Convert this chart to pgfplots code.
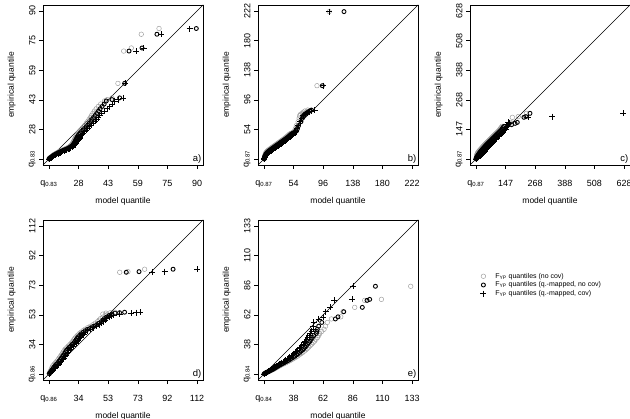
\documentclass[border=0pt]{standalone}
\usepackage{fontspec}
\setmainfont{Liberation Sans}
\usepackage{pgfplots}
\usepackage{pgfplotstable}
\pgfplotsset{compat=1.18}

\definecolor{lightq}{HTML}{9A9A9A}

% columns: empirical quantile, model quantile of the three fits
% (no covariate, quantile-mapped without covariate, quantile-mapped with covariate)
\pgfplotstableread{
emp nocov qmap qmapcov
12.6 12.5 12.6 12.7
12.9 12.8 12.9 13.1
13.2 13.1 13.3 13.5
13.5 13.5 13.7 14.0
13.8 13.9 14.1 14.5
14.1 14.2 14.5 15.0
14.4 14.6 14.9 15.5
14.7 15.0 15.4 16.0
15.0 15.4 15.9 16.6
15.3 15.9 16.5 17.2
15.6 16.4 17.0 17.8
15.9 17.0 17.6 18.4
16.2 17.5 18.2 19.0
16.5 18.1 18.8 19.7
16.8 18.7 19.5 20.4
17.1 19.4 20.2 21.1
17.4 20.1 20.9 21.8
17.7 20.8 21.6 22.5
18.0 21.5 22.3 23.2
18.4 22.2 23.0 23.9
18.8 22.9 23.7 24.6
19.2 23.5 24.3 25.2
19.6 24.0 24.8 25.7
20.0 24.4 25.2 26.1
20.5 24.7 25.5 26.5
21.0 25.0 25.8 26.9
21.6 25.3 26.1 27.3
22.2 25.6 26.4 27.7
22.8 25.9 26.7 28.1
23.4 26.2 27.0 28.5
24.0 26.5 27.3 28.9
24.7 26.9 27.7 29.4
25.4 27.3 28.2 29.9
26.1 27.8 28.8 30.5
26.9 28.4 29.5 31.2
27.7 29.1 30.3 32.0
28.5 29.8 31.1 32.8
29.4 30.6 32.0 33.7
30.3 31.3 32.8 34.6
31.2 32.0 33.6 35.5
32.2 32.8 34.4 36.5
33.2 33.5 35.2 37.4
34.2 34.1 35.9 38.2
35.3 34.8 36.7 39.1
36.4 35.5 37.5 40.0
37.6 36.3 38.4 41.6
38.8 37.2 39.3 43.0
40.0 38.3 40.3 44.3
41.3 39.6 41.4 45.5
42.9 41.6 42.5 46.9
43.6 43.0 45.5 48.6
44.5 45.5 49.5 51.2
52.1 48.6 52.1 52.5
69.0 51.6 54.4 58.2
70.6 55.6 61.2 62.1
77.8 60.8 69.0 71.3
80.8 70.1 89.6 86.1
}\tabA

\pgfplotstableread{
emp nocov qmap qmapcov
12.3 12.2 12.3 12.4
13.0 12.4 12.5 12.7
14.0 12.6 12.8 13.1
15.0 12.8 13.1 13.6
16.0 13.0 13.5 14.2
17.0 13.3 13.9 14.8
18.0 13.6 14.4 15.6
19.0 14.0 15.0 16.5
20.0 14.2 15.7 17.6
21.0 14.8 16.5 18.8
22.0 15.5 17.4 20.0
23.0 16.4 18.5 21.3
24.0 17.4 19.7 22.6
25.0 18.5 21.0 24.0
26.0 19.9 22.4 25.4
27.0 21.3 23.8 26.8
28.0 22.7 25.2 28.2
29.0 24.1 26.6 29.6
30.0 25.5 28.0 31.0
31.0 26.9 29.4 32.4
32.0 28.3 30.8 33.8
33.0 29.7 32.2 35.2
34.0 31.1 33.6 36.6
35.0 32.5 35.0 38.0
36.0 33.9 36.4 39.4
37.0 35.3 37.8 40.8
38.0 36.7 39.2 42.2
39.0 38.1 40.6 43.6
40.2 39.7 42.2 45.2
41.4 41.3 43.8 46.8
42.6 42.8 45.3 48.3
43.8 44.3 46.8 49.8
45.0 45.7 48.2 51.2
46.3 47.1 49.6 52.6
47.6 48.5 51.0 54.0
48.4 50.0 52.5 55.0
50.0 53.2 55.5 55.0
51.7 55.5 58.0 57.0
55.0 56.5 59.5 59.0
59.3 57.9 61.0 60.5
65.0 60.5 64.5 63.0
70.0 62.0 66.5 65.5
73.5 62.6 68.0 67.5
75.5 64.0 69.7 70.5
77.0 66.5 72.0 73.0
78.5 68.0 74.4 76.0
80.1 70.0 76.5 79.2
81.5 74.0 79.2 83.9
116.0 87.2 94.8 95.7
221.0 104.5 125.5 104.2
}\tabB

\pgfplotstableread{
emp nocov qmap qmapcov
28 27.5 28 28.5
30 28 28.8 30.5
32 28.5 29.5 32.5
34 29 30.5 35
36 29.5 31.5 37.5
38 30 32.8 40
40 30.5 34 43
42.5 31 35.5 46
45 31.5 37 49
47.5 32 38.8 52
50 33 40.5 54.5
52.5 34.2 42.2 56.5
55 36 44 58
57.5 38 46 60
60 40 48 62
62.5 42 50 64
65 44 52 66
67.5 46.2 54.2 68.2
70 48.5 56.5 70.5
72.5 50.8 58.8 72.8
75 53 61 75
77.5 55.2 63.2 77.2
80 57.5 65.5 79.5
82.5 59.8 67.8 81.8
85 62 70 84
87.5 64.5 72.5 86.5
90 67 75 89
92.5 69.5 77.5 91.5
95 72 80 94
97.5 74.5 82.5 96.5
100 77 85 99
103 80 88 102
106 83 91 105
109 86 94 108
112 89 97 111
115 92 100 114
118 95 103 117
121 98 106 120
124 101 109 123
127 104 112 126
130 107 115 129
134 111 119 133
138 115 123 137
142 119 127 141
146 123 131 145
150 126 134 148
155 129 137 151
160 133 141 155
166.7 160 172 158
172 165 186 162
176 168 195 158
196.5 175 222 240
199.5 199 230 337
212.7 232 246.5 624
}\tabC

\pgfplotstableread{
emp nocov qmap qmapcov
14.8 14.7 14.8 15.0
15.5 15.0 15.3 15.7
16.3 15.4 15.9 16.5
17.1 15.8 16.5 17.3
18.0 16.2 17.1 18.1
19.0 16.6 17.8 18.9
20.0 17.1 18.6 20.1
21.0 17.9 19.4 20.9
22.0 18.8 20.3 21.8
23.0 19.7 21.2 22.7
24.0 20.5 22.0 23.5
25.0 21.2 22.7 24.2
26.0 21.9 23.4 24.9
27.0 22.6 24.1 25.6
28.0 23.3 24.8 26.3
29.0 23.9 25.4 26.9
30.0 24.5 26.0 27.5
31.0 25.3 26.8 28.3
32.0 26.3 27.8 29.3
33.0 27.3 28.8 30.3
34.0 28.3 29.8 31.3
35.0 29.3 30.8 32.3
36.0 30.1 31.6 33.1
37.0 30.8 32.3 33.8
38.0 31.5 33.0 34.5
39.0 32.3 33.8 35.3
40.0 33.3 34.8 36.3
41.0 34.3 35.8 37.3
42.0 35.5 37.0 38.5
43.0 36.9 38.4 39.9
44.0 38.3 40.0 41.5
45.0 40.0 42.0 43.5
46.0 41.8 44.0 45.5
47.0 43.5 46.0 47.5
48.0 45.0 47.5 49.0
49.0 46.5 49.0 50.5
50.0 47.5 50.0 51.5
51.0 48.5 51.0 52.5
52.0 50.0 52.5 54.0
53.0 51.5 54.0 55.5
53.5 52.5 55.5 57.0
54.0 50.0 56.0 61.0
54.6 52.0 58.0 68.7
54.9 55.0 61.0 71.8
55.2 58.0 64.3 74.5
81.5 61.1 65.4 82.6
81.9 66.5 73.8 90.7
83.5 77.5 96.2 112.0
}\tabD

\pgfplotstableread{
emp nocov qmap qmapcov
14.8 14.9 14.8 14.7
15.3 15.8 15.6 15.4
15.8 16.8 16.5 16.2
16.3 17.9 17.5 17.0
16.8 18.9 18.5 17.9
17.3 20.0 19.5 18.8
17.8 21.0 20.5 19.7
18.3 22.1 21.5 20.6
18.8 23.0 22.4 21.5
19.4 24.0 23.3 22.4
20.0 25.0 24.2 23.2
20.6 26.1 25.2 24.0
21.2 27.2 26.2 24.9
21.8 28.3 27.2 25.8
22.4 29.5 28.3 26.8
23.0 30.8 29.5 27.8
23.7 32.2 30.8 28.9
24.4 33.5 32.0 29.9
25.1 34.9 33.3 31.0
25.8 36.2 34.5 32.0
26.6 37.6 35.8 33.1
27.4 38.9 37.0 34.1
28.2 40.3 38.3 35.2
29.0 41.6 39.5 36.2
30.0 43.0 40.8 37.3
31.0 44.3 42.0 38.4
32.0 45.7 43.3 39.5
33.0 47.0 44.5 40.6
34.0 48.2 45.6 41.6
35.0 49.3 46.6 42.6
36.2 50.5 47.6 43.7
37.4 51.7 48.6 44.8
38.6 52.9 49.6 45.8
39.8 54.0 50.5 46.8
41.0 55.2 51.5 47.8
42.5 56.4 52.5 48.8
44.0 57.6 53.5 49.7
45.5 58.6 54.6 50.6
47.2 59.3 56.6 51.6
48.8 61.0 57.0 52.8
50.5 62.8 57.4 53.9
53.0 64.0 58.5 53.9
56.0 65.4 61.0 54.5
58.8 68.7 71.9 58.5
60.5 76.2 74.0 62.0
64.6 78.0 78.6 64.0
68.1 87.4 93.5 67.5
73.7 95.4 97.3 71.0
74.5 108.8 99.4 85.2
85.0 132.3 104.0 86.0
}\tabE

\tikzset{
  panel label/.style={anchor=south east, inner sep=1.5bp, font=\fontsize{9.5}{10}\selectfont},
}
\pgfplotsset{
  qqpanel/.style={
    scale only axis, width=160bp, height=160bp,
    axis line style={line width=0.6pt},
    tick align=outside, major tick length=4bp,
    xtick pos=left, ytick pos=left,
    tick style={black, line width=0.5pt},
    xticklabel style={font=\fontsize{9}{10}\selectfont, yshift=-8bp},
    yticklabel style={font=\fontsize{9}{10}\selectfont, rotate=90, anchor=south},
    label style={font=\fontsize{8.5}{10}\selectfont},
    xlabel={model quantile}, ylabel={empirical quantile},
    xlabel style={at={(axis description cs:0.5,-0.229)}, anchor=center},
    ylabel style={at={(axis description cs:-0.196,0.5)}, anchor=center},
    clip=true,
  },
  nocovmark/.style={only marks, mark=o, mark size=2.3bp,
    mark options={draw=lightq, line width=0.45pt}},
  qmapmark/.style={only marks, mark=o, mark size=2.0bp,
    mark options={draw=black, line width=0.9pt}},
  covmark/.style={only marks, mark=+, mark size=3bp,
    mark options={draw=black, line width=0.6pt}},
  diag/.style={black, line width=0.55pt, forget plot},
}

\begin{document}
\begin{tikzpicture}
\path[use as bounding box] (0,0) rectangle (630bp,419bp);
\begin{scope}
\clip (0,0) rectangle (630bp,419bp);

% a)
\begin{axis}[qqpanel, at={(43bp,254bp)}, anchor=south west,
  xmin=9.4, xmax=93.1, ymin=9.4, ymax=93.1,
  xtick={12.5,28,43.5,59,74.5,90}, ytick={12.5,28,43.5,59,74.5,90},
  xticklabels={q\textsubscript{0.83},28,43,59,75,90},
  yticklabels={q\textsubscript{0.83},28,43,59,75,90}]
\addplot[diag] coordinates {(0,0) (100,100)};
\addplot[nocovmark] table[x=nocov, y=emp] {\tabA};
\addplot[qmapmark] table[x=qmap, y=emp] {\tabA};
\addplot[covmark] table[x=qmapcov, y=emp] {\tabA};
\node[panel label] at (rel axis cs:1,0) {a)};
\end{axis}

% b)
\begin{axis}[qqpanel, at={(258bp,254bp)}, anchor=south west,
  xmin=3.6, xmax=230.4, ymin=3.6, ymax=230.4,
  xtick={12,54,96,138,180,222}, ytick={12,54,96,138,180,222},
  xticklabels={q\textsubscript{0.87},54,96,138,180,222},
  yticklabels={q\textsubscript{0.87},54,96,138,180,222}]
\addplot[diag] coordinates {(0,0) (250,250)};
\addplot[nocovmark] table[x=nocov, y=emp] {\tabB};
\addplot[qmapmark] table[x=qmap, y=emp] {\tabB};
\addplot[covmark] table[x=qmapcov, y=emp] {\tabB};
\node[panel label] at (rel axis cs:1,0) {b)};
\end{axis}

% c)
\begin{axis}[qqpanel, at={(470bp,254bp)}, anchor=south west,
  xmin=3.16, xmax=652.24, ymin=3.16, ymax=652.24,
  xtick={27.2,147.4,267.6,387.8,508,628.2}, ytick={27.2,147.4,267.6,387.8,508,628.2},
  xticklabels={q\textsubscript{0.87},147,268,388,508,628},
  yticklabels={q\textsubscript{0.87},147,268,388,508,628}]
\addplot[diag] coordinates {(0,0) (700,700)};
\addplot[nocovmark] table[x=nocov, y=emp] {\tabC};
\addplot[qmapmark] table[x=qmap, y=emp] {\tabC};
\addplot[covmark] table[x=qmapcov, y=emp] {\tabC};
\node[panel label] at (rel axis cs:1,0) {c)};
\end{axis}

% d)
\begin{axis}[qqpanel, at={(43bp,39bp)}, anchor=south west,
  xmin=10.6, xmax=115.9, ymin=10.6, ymax=115.9,
  xtick={14.5,34,53.5,73,92.5,112}, ytick={14.5,34,53.5,73,92.5,112},
  xticklabels={q\textsubscript{0.86},34,53,73,92,112},
  yticklabels={q\textsubscript{0.86},34,53,73,92,112}]
\addplot[diag] coordinates {(0,0) (130,130)};
\addplot[nocovmark] table[x=nocov, y=emp] {\tabD};
\addplot[qmapmark] table[x=qmap, y=emp] {\tabD};
\addplot[covmark] table[x=qmapcov, y=emp] {\tabD};
\node[panel label] at (rel axis cs:1,0) {d)};
\end{axis}

% e) with the legend for all panels
\begin{axis}[qqpanel, at={(258bp,39bp)}, anchor=south west,
  xmin=9.85, xmax=138.15, ymin=9.85, ymax=138.15,
  xtick={14.6,38.36,62.12,85.88,109.64,133.4}, ytick={14.6,38.36,62.12,85.88,109.64,133.4},
  xticklabels={q\textsubscript{0.84},38,62,86,110,133},
  yticklabels={q\textsubscript{0.84},38,62,86,110,133},
  legend cell align=left,
  legend style={at={(rel axis cs:1.37,0.695)}, anchor=north west, draw=none,
    fill=none, font=\fontsize{7}{8}\selectfont, row sep=-1.8bp,
    /tikz/every odd column/.append style={column sep=7bp}}]
\addplot[diag] coordinates {(0,0) (150,150)};
\addplot[nocovmark] table[x=nocov, y=emp] {\tabE};
\addlegendentry{F\textsubscript{YP} quantiles (no cov)}
\addplot[qmapmark] table[x=qmap, y=emp] {\tabE};
\addlegendentry{F\textsubscript{YP} quantiles (q.-mapped, no cov)}
\addplot[covmark] table[x=qmapcov, y=emp] {\tabE};
\addlegendentry{F\textsubscript{YP} quantiles (q.-mapped, cov)}
\node[panel label] at (rel axis cs:1,0) {e)};
\end{axis}

\end{scope}
\end{tikzpicture}
\end{document}
